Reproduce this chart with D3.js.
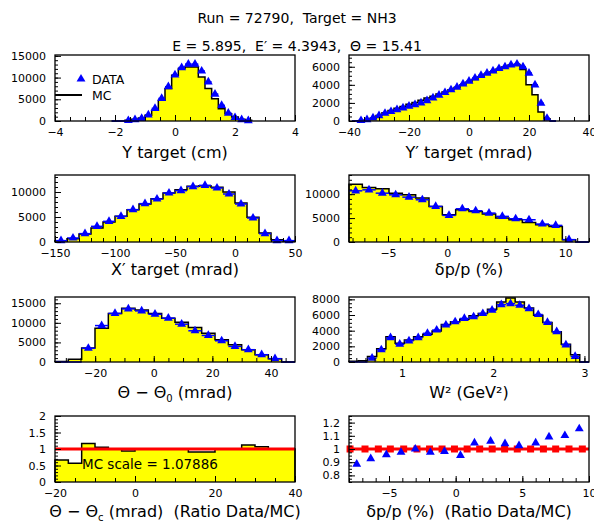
<!DOCTYPE html>
<html>
<head>
<meta charset="utf-8">
<script src="https://cdn.jsdelivr.net/npm/d3@7"></script>
<style>
  body { margin: 0; background: #fff; }
  text { font-family: "DejaVu Sans", sans-serif; fill: #000; white-space: pre; }
</style>
</head>
<body>
<svg id="chart" width="594" height="523"></svg>
<script>
// ---- data ----
// Y target (cm): bins start at yTgtLo, width yTgtStep
const yTgtLo = -2.111, yTgtStep = 0.2222;
const yTgtMC   = [0, 0, 150, 380, 690, 1300, 2460, 4770, 7460, 10540, 12080, 12460, 12460, 10150, 7460, 5150, 2850, 1690, 920, 380, 150];
const yTgtData = [0, 0, 100, 320, 600, 1400, 2900, 5200, 7900, 10600, 12300, 13100, 13100, 11500, 9000, 6200, 3600, 1800, 800, 320, 60];

// Y' target (mrad)
const ypLo = -39, ypStep = 2;
const ypMC   = [0, 30, 100, 300, 600, 900, 1150, 1400, 1600, 1850, 2050, 2300, 2550, 2750, 3000, 3200, 3450, 3700, 4000, 4300, 4600, 4900, 5200, 5450, 5750, 6000, 6200, 6250, 5700, 4000, 2900, 1000, 250, 0];
const ypData = [0, 50, 150, 350, 600, 850, 1050, 1250, 1450, 1650, 1800, 2000, 2250, 2550, 2850, 3150, 3450, 3750, 4100, 4400, 4750, 5050, 5300, 5550, 5800, 6000, 6200, 6300, 6000, 5300, 4000, 1960, 300, 0];

// X' target (mrad)
const xpLo = -150, xpStep = 10;
const xpMC   = [270, 670, 1600, 2800, 4000, 5130, 6470, 7600, 8670, 9800, 10470, 11130, 11270, 10930, 10000, 7800, 4930, 1800, 470, 130];
const xpData = [270, 800, 1670, 3130, 4130, 5130, 6470, 7670, 8600, 9800, 10270, 11070, 11330, 10800, 9600, 7600, 4800, 1670, 270, 270];

// delta p / p (%)
const dpLo = -8.3, dpStep = 1.1278;
const dpMC   = [12080, 11390, 11110, 10200, 9860, 9170, 7430, 5690, 6740, 6390, 5830, 5000, 4650, 4100, 3610, 3260, 490, 0];
const dpData = [10690, 10900, 10200, 9860, 9375, 8820, 7430, 5560, 6940, 6530, 6040, 5350, 4860, 4650, 3750, 3470, 490, 0];

// theta - theta0 (mrad)
const thLo = -33.7, thStep = 4.55;
const thMC   = [100, 700, 3560, 8640, 12370, 13730, 13300, 12370, 11190, 10170, 8800, 7370, 5680, 4400, 3140, 1860, 850, 0];
const thData = [0, 0, 3500, 9300, 12400, 13560, 13050, 12200, 11200, 9660, 7970, 6780, 5420, 3980, 3140, 1860, 850, 0];

// W^2 (GeV^2)
const w2Lo = 0.42, w2Step = 0.10115;
const w2MC   = [100, 150, 700, 1680, 3240, 2400, 2820, 3240, 3540, 3960, 4800, 5140, 5470, 5900, 6190, 6740, 7660, 8170, 7660, 6900, 5980, 5050, 3870, 2270, 930, 0];
const w2Data = [0, 0, 500, 1560, 3100, 2270, 2700, 3100, 3660, 4080, 4720, 5140, 5560, 5770, 6190, 6610, 7330, 7450, 7240, 6820, 6060, 5050, 3870, 2190, 720, 0];

// ratio data/MC vs theta
const rthLo = -20, rthStep = 10 / 3;
const rthRatio = [0.67, 0.57, 1.17, 1.05, 1.0, 0.94, 1.0, 1.0, 1.0, 1.0, 0.91, 0.91, 1.0, 1.0, 1.12, 1.07, 1.0, 1.0];
const mcScale = "1.07886";

// ratio data/MC vs delta p / p
const rdpX     = [-7.42, -6.37, -5.2, -4.1, -3.03, -1.9, -0.84, 0.36, 1.41, 2.62, 3.7, 4.75, 6.0, 7.0, 8.19, 9.27];
const rdpRatio = [0.885, 0.927, 0.957, 0.975, 1.0, 0.975, 0.982, 0.952, 1.046, 1.059, 1.041, 1.026, 1.046, 1.092, 1.102, 1.153];
const rdpUnitX = [-7.92, -6.8, -5.8, -4.9, -3.9, -2.9, -1.96, -1.02, -0.09, 0.86, 1.8, 2.74, 3.67, 4.62, 5.62, 6.58, 7.5, 8.5, 9.5];

const svg = d3.select("#chart");
const BLUE = "#0000ff", YELLOW = "#ffff00", RED = "#ff0000";

// frame boxes: left/right columns and four rows
const cols = [[55, 295], [349, 589]];
const rows = [[55, 121], [175, 242], [297, 362], [416, 482]];
// how far below each row the axis title baseline sits
const titleGap = [37, 33, 36, 35];

function range(a, b, s) {
    // inclusive range that tolerates float steps
    let out = [];
    for (let i = 0; a + i * s <= b + s * 1e-6; i++) out.push(+(a + i * s).toFixed(6));
    return out;
}

/**
 * Build one panel: frame, scales, ticks and axis title
 */
function panel(col, row, xdom, ydom, o) {
    const [x0, x1] = cols[col];
    const [y0, y1] = rows[row];
    const x = d3.scaleLinear().domain(xdom).range([x0, x1]);
    const y = d3.scaleLinear().domain(ydom).range([y1, y0]);
    const g = svg.append("g");
    const plot = g.append("g");

    const fmt = o.fmt || (d => d3.format("d")(d));

    //minor ticks then labelled ticks, pointing into the frame
    g.append("g").attr("transform", `translate(0,${y1})`)
        .call(d3.axisBottom(x).tickValues(o.xMinor).tickSizeInner(-4).tickSizeOuter(0).tickFormat(""))
        .call(a => a.select(".domain").remove());
    g.append("g").attr("transform", `translate(0,${y1})`)
        .call(d3.axisBottom(x).tickValues(o.xMajor).tickSizeInner(-6).tickSizeOuter(0).tickPadding(7).tickFormat(o.xfmt || fmt))
        .call(a => a.select(".domain").remove());
    g.append("g").attr("transform", `translate(${x0},0)`)
        .call(d3.axisLeft(y).tickValues(o.yMinor).tickSizeInner(-3).tickSizeOuter(0).tickFormat(""))
        .call(a => a.select(".domain").remove());
    g.append("g").attr("transform", `translate(${x0},0)`)
        .call(d3.axisLeft(y).tickValues(o.yMajor).tickSizeInner(-6).tickSizeOuter(0).tickPadding(9).tickFormat(o.yfmt || fmt))
        .call(a => a.select(".domain").remove());

    g.selectAll(".tick line").attr("stroke", "#000");
    g.selectAll(".tick text").attr("font-family", "DejaVu Sans").attr("font-size", 11).attr("fill", "#000");

    g.append("rect")
        .attr("x", x0).attr("y", y0).attr("width", x1 - x0).attr("height", y1 - y0)
        .attr("fill", "none").attr("stroke", "#000").attr("stroke-width", 1.3);

    //axis title below
    const t = g.append("text")
        .attr("x", (x0 + x1) / 2).attr("y", y1 + titleGap[row])
        .attr("text-anchor", "middle").attr("font-size", 16);
    o.title(t);

    return { x, y, plot };
}

// step histogram filled yellow with a black outline
function drawHist(p, lo, step, vals) {
    const n = vals.length;
    const pts = vals.map((v, i) => [lo + i * step, v]);
    pts.push([lo + n * step, vals[n - 1]]);
    const area = d3.area().curve(d3.curveStepAfter)
        .x(d => p.x(d[0])).y0(p.y(0)).y1(d => p.y(d[1]));
    p.plot.append("path").attr("d", area(pts)).attr("fill", YELLOW);
    const outline = [[lo, 0]].concat(pts, [[lo + n * step, 0]]);
    const line = d3.line().curve(d3.curveStepAfter).x(d => p.x(d[0])).y(d => p.y(d[1]));
    p.plot.append("path").attr("d", line(outline))
        .attr("fill", "none").attr("stroke", "#000").attr("stroke-width", 1.5);
}

const tri = d3.symbol().type(d3.symbolTriangle).size(34);

// data points: horizontal bin bar plus triangle marker
function drawData(p, lo, step, vals) {
    vals.forEach((v, i) => {
        p.plot.append("line")
            .attr("x1", p.x(lo + i * step)).attr("x2", p.x(lo + (i + 1) * step))
            .attr("y1", p.y(v)).attr("y2", p.y(v))
            .attr("stroke", BLUE).attr("stroke-width", 1.5);
        if (v > 0) {
            p.plot.append("path").attr("d", tri)
                .attr("transform", `translate(${p.x(lo + (i + 0.5) * step)},${p.y(v)})`)
                .attr("fill", BLUE);
        }
    });
}

function sub(t, main, s, rest) {
    t.append("tspan").text(main);
    t.append("tspan").text(s).attr("font-size", 10).attr("dy", 4);
    t.append("tspan").text(rest).attr("dy", -4);
}

// ---- page titles ----
svg.append("text").attr("x", 297).attr("y", 23).attr("text-anchor", "middle").attr("font-size", 14)
    .text("Run = 72790,  Target = NH3");
svg.append("text").attr("x", 297).attr("y", 51).attr("text-anchor", "middle").attr("font-size", 14)
    .text("E = 5.895,  E\u2032 = 4.3943,  \u0398 = 15.41");

// ---- Y target ----
let p = panel(0, 0, [-4, 4], [0, 15200], {
    xMinor: range(-4, 4, 0.5), xMajor: [-4, -2, 0, 2, 4],
    yMinor: range(0, 15000, 1000), yMajor: [0, 5000, 10000, 15000],
    title: t => t.text("Y target (cm)")
});
drawHist(p, yTgtLo, yTgtStep, yTgtMC);
drawData(p, yTgtLo, yTgtStep, yTgtData);
// legend
svg.append("path").attr("d", tri).attr("transform", "translate(81,79)").attr("fill", BLUE);
svg.append("text").attr("x", 92).attr("y", 84).attr("font-size", 12.5).text("DATA");
svg.append("line").attr("x1", 55).attr("x2", 82).attr("y1", 95).attr("y2", 95).attr("stroke", "#000").attr("stroke-width", 2);
svg.append("text").attr("x", 92).attr("y", 100).attr("font-size", 12.5).text("MC");

// ---- Y' target ----
p = panel(1, 0, [-40, 40], [0, 7300], {
    xMinor: range(-40, 40, 5), xMajor: [-40, -20, 0, 20, 40],
    yMinor: range(0, 7000, 500), yMajor: [0, 2000, 4000, 6000],
    title: t => t.text("Y\u2032 target (mrad)")
});
drawHist(p, ypLo, ypStep, ypMC);
drawData(p, ypLo, ypStep, ypData);

// ---- X' target ----
p = panel(0, 1, [-150, 50], [0, 13400], {
    xMinor: range(-150, 50, 10), xMajor: [-150, -100, -50, 0, 50],
    yMinor: range(0, 13000, 1000), yMajor: [0, 5000, 10000],
    title: t => t.text("X\u2032 target (mrad)")
});
drawHist(p, xpLo, xpStep, xpMC);
drawData(p, xpLo, xpStep, xpData);

// ---- delta p/p ----
p = panel(1, 1, [-8.3, 12], [0, 14000], {
    xMinor: range(-8, 12, 1), xMajor: [-5, 0, 5, 10],
    yMinor: range(0, 14000, 1000), yMajor: [0, 5000, 10000],
    title: t => t.text("\u03b4p/p (%)")
});
drawHist(p, dpLo, dpStep, dpMC);
drawData(p, dpLo, dpStep, dpData);

// ---- theta - theta0 ----
p = panel(0, 2, [-33.7, 48.2], [0, 16600], {
    xMinor: range(-30, 45, 5), xMajor: [-20, 0, 20, 40],
    yMinor: range(0, 16000, 1000), yMajor: [0, 5000, 10000, 15000],
    title: t => sub(t, "\u0398 \u2212 \u0398", "0", " (mrad)")
});
drawHist(p, thLo, thStep, thMC);
drawData(p, thLo, thStep, thData);

// ---- W^2 ----
p = panel(1, 2, [0.42, 3.05], [0, 8300], {
    xMinor: range(0.5, 3.0, 0.1), xMajor: [1, 2, 3],
    yMinor: range(0, 8000, 500), yMajor: [0, 2000, 4000, 6000, 8000],
    title: t => t.text("W\u00b2 (GeV\u00b2)")
});
drawHist(p, w2Lo, w2Step, w2MC);
drawData(p, w2Lo, w2Step, w2Data);

// ---- ratio vs theta ----
p = panel(0, 3, [-20, 40], [0, 2], {
    xMinor: range(-20, 40, 5), xMajor: [-20, 0, 20, 40],
    yMinor: range(0, 2, 0.1), yMajor: [0, 0.5, 1, 1.5, 2],
    yfmt: d => String(d),
    title: t => sub(t, "\u0398 \u2212 \u0398", "c", " (mrad)  (Ratio Data/MC)")
});
drawHist(p, rthLo, rthStep, rthRatio);
p.plot.append("line").attr("x1", p.x(-20)).attr("x2", p.x(40)).attr("y1", p.y(1)).attr("y2", p.y(1))
    .attr("stroke", RED).attr("stroke-width", 3);
p.plot.append("text").attr("x", 82).attr("y", 469).attr("font-size", 13.5).text("MC scale = " + mcScale);

// ---- ratio vs delta p/p ----
p = panel(1, 3, [-8, 10], [0.75, 1.25], {
    xMinor: range(-8, 10, 1), xMajor: [-5, 0, 5, 10],
    yMinor: range(0.75, 1.25, 0.025), yMajor: [0.8, 0.9, 1, 1.1, 1.2],
    yfmt: d => String(d),
    title: t => t.text("\u03b4p/p (%)  (Ratio Data/MC)")
});
p.plot.append("line").attr("x1", p.x(-8)).attr("x2", p.x(10)).attr("y1", p.y(1)).attr("y2", p.y(1))
    .attr("stroke", RED).attr("stroke-width", 3);
p.plot.selectAll(".sq").data(rdpUnitX).enter().append("rect")
    .attr("x", d => p.x(d) - 3.5).attr("y", p.y(1) - 3.5).attr("width", 7).attr("height", 7)
    .attr("fill", RED);
p.plot.selectAll(".rt").data(rdpX).enter().append("path")
    .attr("d", tri)
    .attr("transform", (d, i) => `translate(${p.x(d)},${p.y(rdpRatio[i])})`)
    .attr("fill", BLUE);
</script>
</body>
</html>
